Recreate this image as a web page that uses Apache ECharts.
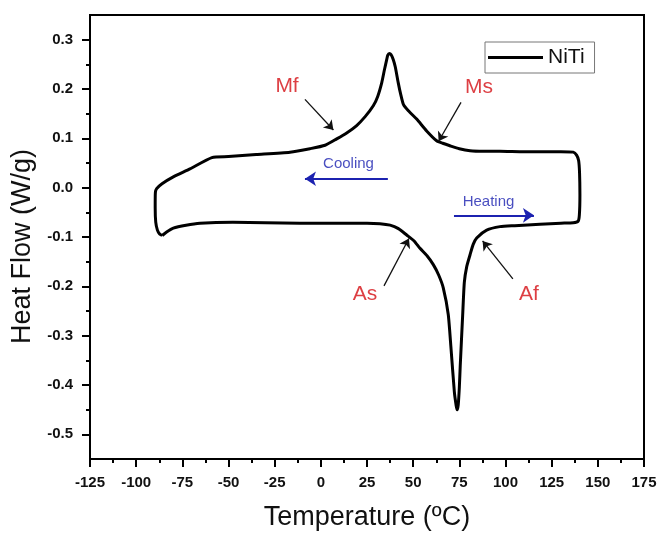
<!DOCTYPE html>
<html>
<head>
<meta charset="utf-8">
<script src="https://cdn.jsdelivr.net/npm/echarts@6/dist/echarts.min.js"></script>
<style>html,body{margin:0;padding:0;background:#fff;}#c{width:662px;height:536px;}</style>
</head>
<body>
<div id="c"></div>
<script>
// Heating branch (lower curve, left -> right, then up the right end)
const heatT = [-85.9,-83.5,-79.9,-73,-65.4,-47.6,-30,-11.3,10,25,32.0,37.5,42,46.5,50.5,53.7,57.5,60.9,63.8,66.3,69.0,70.5,72.3,73.3,73.8,74.4,75.0,75.5,76.8,77.7,79.0,80.8,82.5,84.4,89.8,97.0,105,118.7,130,136.7,139.3,140.0,140.3,140.1,139.6,138.5,136.7];
const heatH = [-0.097,-0.090,-0.082,-0.076,-0.072,-0.070,-0.071,-0.072,-0.072,-0.072,-0.073,-0.076,-0.083,-0.096,-0.108,-0.123,-0.138,-0.156,-0.177,-0.203,-0.257,-0.326,-0.414,-0.442,-0.450,-0.440,-0.405,-0.360,-0.259,-0.192,-0.160,-0.136,-0.115,-0.102,-0.086,-0.079,-0.077,-0.074,-0.072,-0.071,-0.068,-0.055,-0.015,0.030,0.055,0.066,0.072];
// Cooling branch (upper curve, right -> left, then down the left end)
const coolT = [130,110,97.0,88,80.8,75,69.9,66,62.7,57.3,51.9,47.4,44.7,43.2,41.9,40.3,39.2,38,37.1,36.2,35.7,34.5,33.0,30.8,28.4,24,19.4,14,8.6,2.3,-5.9,-16.7,-35,-50,-59,-70.9,-79.9,-86,-88.9,-89.6,-89.7,-89.4,-88.5,-87.3];
const coolH = [0.073,0.073,0.074,0.074,0.075,0.079,0.085,0.090,0.095,0.115,0.139,0.156,0.169,0.190,0.213,0.245,0.260,0.270,0.272,0.268,0.260,0.240,0.213,0.185,0.166,0.144,0.126,0.111,0.099,0.086,0.079,0.072,0.067,0.063,0.061,0.038,0.022,0.008,-0.002,-0.010,-0.040,-0.070,-0.086,-0.094];

const xTicks = [-125,-100,-75,-50,-25,0,25,50,75,100,125,150,175];
const yMajor = [-0.5,-0.4,-0.3,-0.2,-0.1,0.0,0.1,0.2,0.3];
const yMinor = [-0.45,-0.35,-0.25,-0.15,-0.05,0.05,0.15,0.25];

// Annotation labels (text, T, H)
const redLabels = ['Mf','Ms','As','Af'];
const redT = [-18.3,85.6,23.9,112.7];
const redH = [0.205,0.203,-0.215,-0.215];
// Black arrows: start (T,H) -> end (T,H)
const arrowFromT = [-8.6,75.9,34.2,104.0];
const arrowFromH = [0.179,0.173,-0.199,-0.185];
const arrowToT = [6.8,63.8,47.7,87.6];
const arrowToH = [0.117,0.094,-0.103,-0.108];
// Blue process labels and arrows
const blueLabels = ['Cooling','Heating'];
const blueT = [15.0,90.8];
const blueH = [0.048,-0.028];
const blueFromT = [36.3,72.1];
const blueToT = [-8.6,115.4];
const blueArrowH = [0.018,-0.056];

const loop = [];
heatT.forEach((t,i)=>loop.push([t,heatH[i]]));
coolT.forEach((t,i)=>loop.push([t,coolH[i]]));
loop.push([heatT[0],heatH[0]]);

const FONT = 'Liberation Sans, Arial, Helvetica, sans-serif';
const RED = '#d40f14';
const BLUE = '#1c22b0';

const blackArrows = arrowFromT.map((t,i)=>[{coord:[t,arrowFromH[i]]},{coord:[arrowToT[i],arrowToH[i]]}]);
const blueArrows = blueFromT.map((t,i)=>[{coord:[t,blueArrowH[i]]},{coord:[blueToT[i],blueArrowH[i]]}]);

const chart = echarts.init(document.getElementById('c'), null, {renderer:'canvas'});
chart.setOption({
  animation:false,
  backgroundColor:'#fff',
  grid:{left:90,top:15,right:18,bottom:75,show:true,borderColor:'#000',borderWidth:2,backgroundColor:'transparent'},
  legend:{
    data:[{name:'NiTi',icon:'rect'}], left:485, top:42, orient:'horizontal',
    padding:[5,10,5,3], itemWidth:55, itemHeight:3, itemGap:5,
    itemStyle:{color:'#000'},
    borderColor:'#777', borderWidth:1, backgroundColor:'#fff',
    textStyle:{fontFamily:FONT,fontSize:21,color:'#111',lineHeight:21}
  },
  xAxis:{
    type:'value', min:-125, max:175, interval:25,
    name:'Temperature (ºC)', nameLocation:'middle', nameGap:45,
    nameTextStyle:{fontFamily:FONT,fontSize:27,color:'#111'},
    axisLine:{show:true,onZero:false,lineStyle:{color:'#000',width:2}},
    axisTick:{show:true,inside:false,length:8,lineStyle:{color:'#000',width:2}},
    minorTick:{show:true,splitNumber:2,length:4,lineStyle:{color:'#000',width:2}},
    axisLabel:{fontFamily:FONT,fontSize:15,fontWeight:'bold',color:'#111',margin:16},
    splitLine:{show:false}
  },
  yAxis:[{
    type:'value', min:-0.55, max:0.35,
    name:'Heat Flow (W/g)', nameLocation:'middle', nameGap:52, nameRotate:90,
    nameTextStyle:{fontFamily:FONT,fontSize:27,color:'#111',padding:[0,19,0,0]},
    axisLine:{show:true,onZero:false,lineStyle:{color:'#000',width:2}},
    axisTick:{show:true,inside:false,length:8,customValues:yMajor,lineStyle:{color:'#000',width:2}},
    axisLabel:{fontFamily:FONT,fontSize:15,fontWeight:'bold',color:'#111',margin:17,customValues:yMajor,
      formatter:v=>Number(v).toFixed(1)},
    splitLine:{show:false}
  },{
    type:'value', min:-0.55, max:0.35, position:'left', offset:0,
    axisLine:{show:false,onZero:false},
    axisTick:{show:true,inside:false,length:4,customValues:yMinor,lineStyle:{color:'#000',width:2}},
    axisLabel:{show:false},
    splitLine:{show:false}
  }],
  series:[{
    name:'NiTi', type:'line', data:loop, symbol:'none', smooth:0.2,
    lineStyle:{color:'#000',width:3,join:'round'}, itemStyle:{color:'#000'},
    silent:true, z:3,
    markLine:{
      silent:true, symbol:['none','arrow'], symbolSize:9,
      label:{show:false}, lineStyle:{color:'#111',width:1.3,type:'solid'},
      data:blackArrows
    }
  },{
    name:'blue', type:'line', data:[], symbol:'none', silent:true,
    markLine:{
      silent:true, symbol:['none','arrow'], symbolSize:11,
      label:{show:false}, lineStyle:{color:BLUE,width:2,type:'solid'},
      data:blueArrows
    }
  },{
    name:'redText', type:'scatter', symbolSize:0, silent:true,
    data:redLabels.map((s,i)=>({value:[redT[i],redH[i]],name:s})),
    label:{show:true,position:'inside',formatter:p=>p.name,fontFamily:FONT,fontSize:21,color:RED}
  },{
    name:'blueText', type:'scatter', symbolSize:0, silent:true,
    data:blueLabels.map((s,i)=>({value:[blueT[i],blueH[i]],name:s})),
    label:{show:true,position:'inside',formatter:p=>p.name,fontFamily:FONT,fontSize:15,color:BLUE}
  }]
});
</script>
</body>
</html>
